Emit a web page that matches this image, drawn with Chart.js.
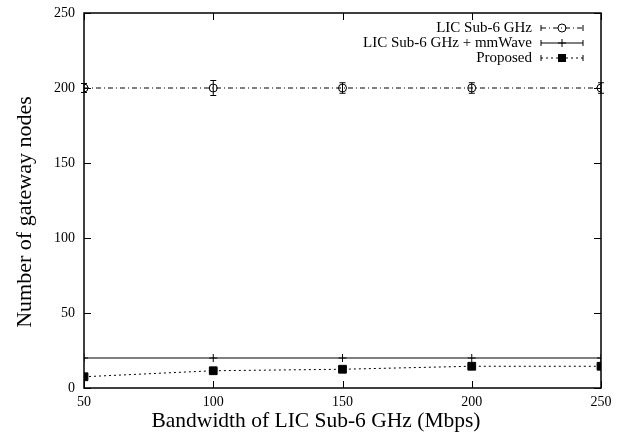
<!DOCTYPE html>
<html><head><meta charset="utf-8">
<script src="https://cdn.jsdelivr.net/npm/chart.js@4/dist/chart.umd.min.js"></script>
<style>html,body{margin:0;padding:0;background:#fff;}canvas{display:block;}</style>
</head><body>
<canvas id="c" width="627" height="440"></canvas>
<script>
const bandwidth = [50, 100, 150, 200, 250];
const xTicks = [50, 100, 150, 200, 250];
const yTicks = [0, 50, 100, 150, 200, 250];
const licSub6 = [200, 200, 200, 200, 200];
const licSub6Err = [3, 5, 3.5, 3.5, 3.5];
const licMmWave = [20, 20, 20, 20, 20];
const licMmWaveErr = [0, 0, 0, 0, 0];
const proposed = [7.5, 11.5, 12.5, 14.5, 14.5];
const proposedErr = [0, 0, 0, 0, 0];
const seriesNames = ['LIC Sub-6 GHz', 'LIC Sub-6 GHz + mmWave', 'Proposed'];
const xTitle = 'Bandwidth of LIC Sub-6 GHz (Mbps)';
const yTitle = 'Number of gateway nodes';

const FONT = '"Liberation Serif", "Times New Roman", serif';
const toPts = (ys) => ys.map((y, i) => ({x: bandwidth[i], y}));
const errs = [licSub6Err, licMmWaveErr, proposedErr];

const dashes = [[5, 3, 1, 3], [], [2, 3]];
const styles = ['circle', 'cross', 'rect'];
const radii = [4, 4, 5.5];

function drawMarker(ctx, style, x, y) {
  ctx.save();
  ctx.setLineDash([]);
  ctx.strokeStyle = '#000'; ctx.fillStyle = '#000'; ctx.lineWidth = 1;
  if (style === 'circle') {
    ctx.beginPath(); ctx.arc(x, y, 4, 0, Math.PI * 2); ctx.stroke();
  } else if (style === 'cross') {
    ctx.beginPath(); ctx.moveTo(x - 4, y); ctx.lineTo(x + 4, y); ctx.moveTo(x, y - 4); ctx.lineTo(x, y + 4); ctx.stroke();
  } else {
    ctx.fillRect(x - 4, y - 4, 8, 8);
  }
  ctx.restore();
}

const framePlugin = {
  id: 'frame',
  afterDatasetsDraw(chart) {
    const ctx = chart.ctx, ca = chart.chartArea;
    const xs = chart.scales.x, ys = chart.scales.y;
    ctx.save();
    ctx.strokeStyle = '#000'; ctx.lineWidth = 1;
    // error bars
    chart.data.datasets.forEach((ds, di) => {
      ds.data.forEach((p, i) => {
        const e = errs[di][i];
        if (!e) return;
        const px = xs.getPixelForValue(p.x);
        const y1 = ys.getPixelForValue(p.y - e), y2 = ys.getPixelForValue(p.y + e);
        ctx.beginPath();
        ctx.moveTo(px, y1); ctx.lineTo(px, y2);
        ctx.moveTo(px - 3, y1); ctx.lineTo(px + 3, y1);
        ctx.moveTo(px - 3, y2); ctx.lineTo(px + 3, y2);
        ctx.stroke();
      });
    });
    // frame
    ctx.lineWidth = 1.5;
    ctx.strokeRect(ca.left, ca.top, ca.right - ca.left, ca.bottom - ca.top);
    ctx.lineWidth = 1;
    ctx.beginPath();
    xTicks.forEach(v => {
      const px = Math.round(xs.getPixelForValue(v)) + 0.5;
      ctx.moveTo(px, ca.bottom); ctx.lineTo(px, ca.bottom - 7);
      ctx.moveTo(px, ca.top); ctx.lineTo(px, ca.top + 7);
    });
    yTicks.forEach(v => {
      const py = Math.round(ys.getPixelForValue(v)) + 0.5;
      ctx.moveTo(ca.left, py); ctx.lineTo(ca.left + 7, py);
      ctx.moveTo(ca.right, py); ctx.lineTo(ca.right - 7, py);
    });
    ctx.stroke();
    // legend
    ctx.font = '15px ' + FONT;
    ctx.fillStyle = '#000';
    ctx.textAlign = 'right'; ctx.textBaseline = 'middle';
    const rows = [28, 43, 58];
    seriesNames.forEach((n, i) => {
      const y = rows[i];
      ctx.fillText(n, 532, y);
      ctx.save();
      ctx.setLineDash(dashes[i]);
      ctx.beginPath(); ctx.moveTo(541, y); ctx.lineTo(583, y); ctx.stroke();
      ctx.setLineDash([]);
      ctx.beginPath();
      ctx.moveTo(541, y - 3); ctx.lineTo(541, y + 3);
      ctx.moveTo(583, y - 3); ctx.lineTo(583, y + 3);
      ctx.stroke();
      ctx.restore();
      drawMarker(ctx, styles[i], 562, y);
    });
    // axis titles
    ctx.textAlign = 'center'; ctx.textBaseline = 'middle';
    ctx.font = '21.5px ' + FONT;
    ctx.fillText(xTitle, 316, 421);
    ctx.save();
    ctx.translate(25, 212);
    ctx.rotate(-Math.PI / 2);
    ctx.font = '22px ' + FONT;
    ctx.fillText(yTitle, 0, 0);
    ctx.restore();
    ctx.restore();
  }
};

const datasets = [licSub6, licMmWave, proposed].map((arr, i) => ({
  label: seriesNames[i],
  data: toPts(arr),
  borderColor: '#000',
  backgroundColor: i === 2 ? '#000' : 'rgba(0,0,0,0)',
  borderWidth: 1,
  borderDash: dashes[i],
  pointStyle: styles[i],
  pointRadius: radii[i],
  pointBorderWidth: 1,
  pointBorderColor: '#000',
  pointBackgroundColor: i === 2 ? '#000' : 'rgba(0,0,0,0)',
  tension: 0,
  fill: false
}));

new Chart(document.getElementById('c'), {
  type: 'line',
  data: {datasets},
  options: {
    responsive: false,
    animation: false,
    events: [],
    layout: {padding: {left: 0, top: 13, right: 26, bottom: 0}},
    plugins: {legend: {display: false}, tooltip: {enabled: false}},
    scales: {
      x: {
        type: 'linear', min: 50, max: 250,
        afterBuildTicks: (s) => { s.ticks = xTicks.map(v => ({value: v})); },
        afterFit: (s) => { s.height = 52; s.paddingLeft = 0; s.paddingRight = 0; },
        grid: {display: false, drawTicks: false}, border: {display: false},
        ticks: {color: '#000', font: {family: FONT, size: 14}, padding: 6, maxRotation: 0}
      },
      y: {
        type: 'linear', min: 0, max: 250,
        afterBuildTicks: (s) => { s.ticks = yTicks.map(v => ({value: v})); },
        afterFit: (s) => { s.width = 84; s.paddingTop = 0; s.paddingBottom = 0; },
        grid: {display: false, drawTicks: false}, border: {display: false},
        ticks: {color: '#000', font: {family: FONT, size: 14}, padding: 9}
      }
    }
  },
  plugins: [framePlugin]
});
</script>
</body></html>
